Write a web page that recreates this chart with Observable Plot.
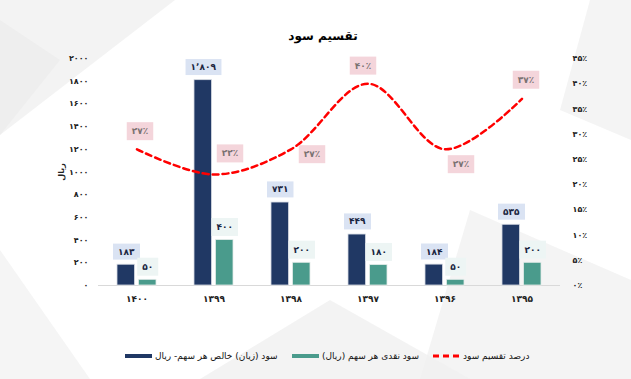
<!DOCTYPE html>
<html>
<head>
<meta charset="utf-8">
<script src="https://cdn.jsdelivr.net/npm/d3@7"></script>
<script src="https://cdn.jsdelivr.net/npm/@observablehq/plot@0.6"></script>
<style>
  html, body { margin: 0; padding: 0; background: #ffffff; }
  #wrap { position: relative; width: 631px; height: 379px; overflow: hidden; font-family: "DejaVu Sans", sans-serif; }
  #bg { position: absolute; left: 0; top: 0; }
  #title { position: absolute; top: 29px; left: 0; width: 646px; text-align: center; font-size: 12px; font-weight: bold; color: #000; direction: rtl; }
  #chart { position: absolute; left: 0; top: 0; }
  #chart svg text { font-weight: bold; }
  .leg { position: absolute; top: 349px; height: 14px; display: flex; align-items: center; font-size: 9px; color: #111; }
  .leg .sw { width: 27px; height: 4px; margin-right: 3px; }
  .leg .tx { direction: rtl; white-space: nowrap; }
</style>
</head>
<body>
<div id="wrap">
  <svg id="bg" width="631" height="379">
    <polygon points="0,0 175,0 0,135" fill="#eeeeee" opacity="0.7"/>
    <polygon points="0,135 60,60 0,20" fill="#e6e6e6" opacity="0.4"/>
    <polygon points="590,0 631,0 631,140 560,110" fill="#efefef" opacity="0.7"/>
    <polygon points="470,210 631,280 631,379 420,379" fill="#f1f1f1" opacity="0.8"/>
    <polygon points="200,379 330,300 470,379" fill="#f0f0f0" opacity="0.8"/>
    <polygon points="0,250 90,379 0,379" fill="#f2f2f2" opacity="0.8"/>
  </svg>
  <div id="title">تقسیم سود</div>
  <div id="chart"></div>
  <div class="leg" style="left:125px"><div class="sw" style="background:#203864"></div><div class="tx">سود (زیان) خالص هر سهم- ریال</div></div>
  <div class="leg" style="left:292px"><div class="sw" style="background:#4a9b8c"></div><div class="tx">سود نقدی هر سهم (ریال)</div></div>
  <div class="leg" style="left:433px"><svg width="27" height="4" style="margin-right:3px"><line x1="0" y1="2" x2="27" y2="2" stroke="#ff0000" stroke-width="3" stroke-dasharray="6,4"/></svg><div class="tx">درصد تقسیم سود</div></div>
</div>
<script>
// ---- data ----
const years = ["۱۴۰۰", "۱۳۹۹", "۱۳۹۸", "۱۳۹۷", "۱۳۹۶", "۱۳۹۵"];
const netEPS = [183, 1809, 731, 449, 184, 535];
const cashDPS = [50, 400, 200, 180, 50, 200];
const payoutPct = [27, 22, 27, 40, 27, 37];
const leftTicks = [0, 200, 400, 600, 800, 1000, 1200, 1400, 1600, 1800, 2000];
const rightTicks = [0, 5, 10, 15, 20, 25, 30, 35, 40, 45];
const leftMax = 2000, rightMax = 45;
// label placement for percentage labels (dx, dy in px)
const pctLabelOffsets = [[3, -18], [16, -21], [21, 5], [-5, -18], [16, 15], [4, -19]];

// ---- helpers ----
const faDigits = "۰۱۲۳۴۵۶۷۸۹";
const toFa = s => String(s).replace(/\d/g, d => faDigits[d]);
const faNum = v => toFa(d3.format(",")(v)).replace(/,/g, "٬");
const pctToY = p => p * leftMax / rightMax;

const rows = years.map((year, i) => ({year, net: netEPS[i], cash: cashDPS[i], pct: payoutPct[i], i}));

const navy = "#203864", teal = "#4a9b8c";
const netTextColor = "#1a2540", cashTextColor = "#1a2541", pctTextColor = "#7a7272";

const pctMarks = rows.map((d, i) => Plot.text([d], {
  x: "year", y: r => pctToY(r.pct), text: r => toFa(r.pct) + "٪",
  dx: pctLabelOffsets[i][0], dy: pctLabelOffsets[i][1],
  fill: pctTextColor, fontSize: 9, fontWeight: "bold"
}));

const chart = Plot.plot({
  width: 631, height: 320,
  marginTop: 58, marginBottom: 35, marginLeft: 98, marginRight: 71,
  style: {background: "transparent", fontFamily: "DejaVu Sans, sans-serif", fontSize: "8px", color: "#222"},
  x: {domain: years, paddingInner: 0.5, paddingOuter: 0.25, axis: null},
  y: {domain: [0, leftMax], axis: null},
  marks: [
    Plot.axisY(leftTicks, {anchor: "left", tickSize: 0, tickPadding: 10, tickFormat: v => toFa(v),
      label: "ریال", labelAnchor: "center", labelOffset: 40, labelArrow: false}),
    Plot.axisY(rightTicks.map(pctToY), {anchor: "right", tickSize: 0, tickPadding: 12,
      tickFormat: v => toFa(Math.round(v * rightMax / leftMax)) + "٪", label: null}),
    Plot.axisX({tickSize: 0, tickPadding: 10, fontSize: 9, label: null}),
    Plot.ruleY([0], {stroke: "#d9d9d9", strokeWidth: 1}),
    Plot.barY(rows, {x: "year", y: "net", fill: navy, insetRight: 21.5, stroke: "#d6dbe3", strokeWidth: 0.8}),
    Plot.barY(rows, {x: "year", y: "cash", fill: teal, insetLeft: 21.5, stroke: "#e3ebe9", strokeWidth: 0.8}),
    Plot.line(rows, {x: "year", y: d => pctToY(d.pct), stroke: "#ff0000", strokeWidth: 2.5,
      strokeDasharray: "6,4", curve: "catmull-rom"}),
    Plot.text(rows, {x: "year", y: "net", text: d => faNum(d.net), dx: -10.75, dy: -13,
      fill: netTextColor, fontSize: 9, fontWeight: "bold"}),
    Plot.text(rows, {x: "year", y: "cash", text: d => faNum(d.cash), dx: 10.75, dy: -13,
      fill: cashTextColor, fontSize: 9, fontWeight: "bold"}),
    ...pctMarks
  ]
});
document.getElementById("chart").appendChild(chart);

// label background boxes
const boxStyles = [
  [netTextColor, "#dae3f3", 5, 3],
  [cashTextColor, "#edf5f4", 5, 4],
  [pctTextColor, "#f4d5db", 5, 4]
];
for (const [textColor, color, padX, padY] of boxStyles) {
  chart.querySelectorAll(`g[fill="${textColor}"] text`).forEach(t => {
    const b = t.getBBox();
    const r = document.createElementNS("http://www.w3.org/2000/svg", "rect");
    r.setAttribute("x", b.x - padX);
    r.setAttribute("y", b.y - padY);
    r.setAttribute("width", b.width + 2 * padX);
    r.setAttribute("height", b.height + 2 * padY);
    r.setAttribute("fill", color);
    const tf = t.getAttribute("transform");
    if (tf) r.setAttribute("transform", tf);
    t.parentNode.insertBefore(r, t);
  });
}
</script>
</body>
</html>
